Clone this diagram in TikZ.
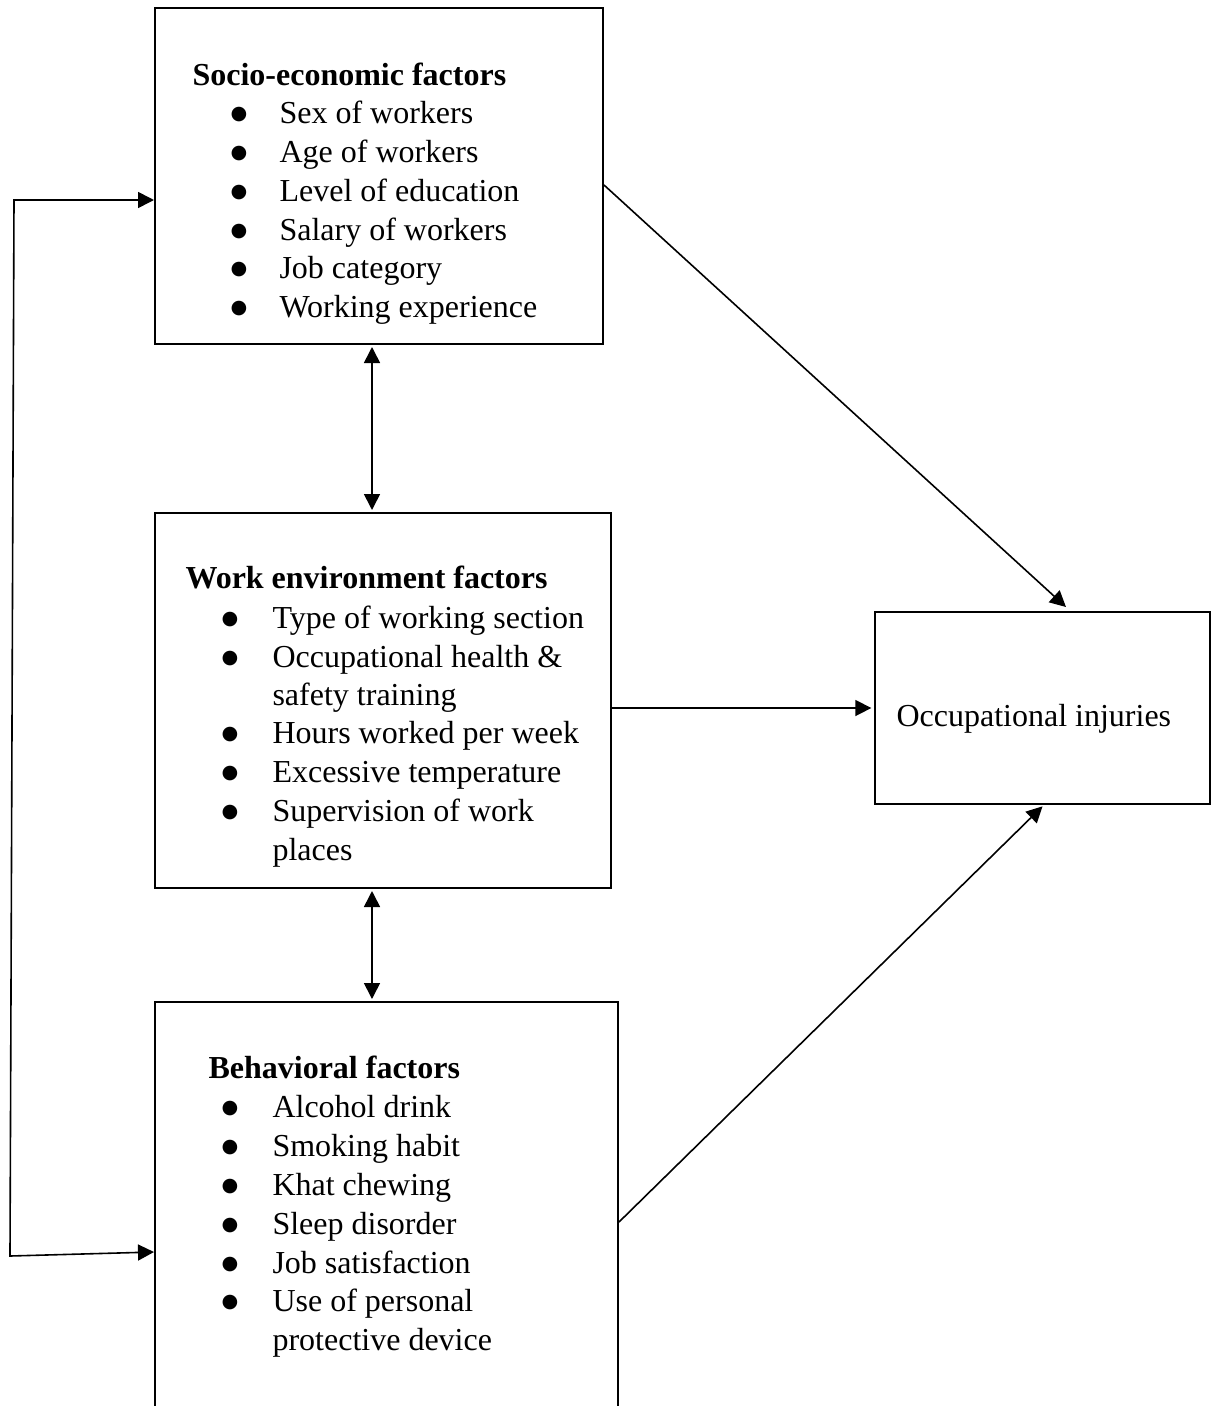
\documentclass[tikz,border=0pt]{standalone}
\usepackage{fontspec}
\setmainfont{Liberation Serif}
\newfontfamily\bulfont{DejaVu Sans}
\usetikzlibrary{arrows.meta}
\tikzset{
  box/.style={draw, line width=0.75pt, inner sep=0pt},
  itm/.style={anchor=base west, inner sep=0pt, font=\fontsize{12}{14.6}\selectfont},
  hdr/.style={anchor=base west, inner sep=0pt, font=\fontsize{12}{14.6}\selectfont\bfseries},
  bul/.style={anchor=base, inner sep=0pt, yshift=1.3pt, font=\bulfont\fontsize{7.2}{9}\selectfont},
  arr/.style={-{Triangle[length=6pt,width=6pt]}, line width=0.6pt},
  darr/.style={{Triangle[length=6pt,width=6pt]}-{Triangle[length=6pt,width=6pt]}, line width=0.6pt}
}
\begin{document}
\begin{tikzpicture}[x=0.375pt, y=-0.375pt]
\useasboundingbox (0,0) rectangle (1217,1406);
% boxes
\node[box, minimum width=168pt, minimum height=126pt] (b1) at (379,176) {};
\node[box, minimum width=171pt, minimum height=140.625pt] (b2) at (383,700.5) {};
\node[box, minimum width=173.625pt, minimum height=156.75pt] (b3) at (386.5,1211) {};
\node[box, minimum width=125.625pt, minimum height=72pt] (b4) at (1042.5,708) {};
% box 1 text
\node[hdr] (h1) at (192,85) {Socio-economic factors};
\foreach \yy/\tt [count=\i] in {123/Sex of workers, 162/Age of workers, 201/Level of education, 240/Salary of workers, 278/Job category, 317/Working experience} {
  \node[bul] (sb\i) at (239,\yy) {●};
  \node[itm] (si\i) at (279,\yy) {\tt};
}
% box 2 text
\node[hdr] (h2) at (185,588) {Work environment factors};
\foreach \yy/\tt [count=\i] in {628/Type of working section, 667/Occupational health \&, 743/Hours worked per week, 782/Excessive temperature, 821/Supervision of work} {
  \node[bul] (wb\i) at (230,\yy) {●};
  \node[itm] (wi\i) at (272,\yy) {\tt};
}
\node[itm] (wc1) at (272,705) {safety training};
\node[itm] (wc2) at (272,860) {places};
% box 3 text
\node[hdr] (h3) at (208,1078) {Behavioral factors};
\foreach \yy/\tt [count=\i] in {1117/Alcohol drink, 1156/Smoking habit, 1195/Khat chewing, 1234/Sleep disorder, 1273/Job satisfaction, 1311/Use of personal} {
  \node[bul] (bb\i) at (230,\yy) {●};
  \node[itm] (bi\i) at (272,\yy) {\tt};
}
\node[itm] (bc1) at (272,1350) {protective device};
% box 4 text
\node[itm] (oi) at (896,726) {Occupational injuries};
% loop coordinates
\coordinate (c1) at (14,200);
\coordinate (c2) at (10,1256);
% connectors
\draw[arr] ([yshift=-3.375pt]b1.east) -- ([xshift=8.8pt,yshift=1.5pt]b4.north);
\draw[arr] (b2.east |- b4.west) -- ([xshift=-1pt]b4.west);
\draw[arr] ([yshift=-4.125pt]b3.east) -- ([yshift=-0.5pt]b4.south);
\draw[darr] ([xshift=-2.625pt,yshift=-0.75pt]b1.south) -- ([xshift=-4.125pt,yshift=0.75pt]b2.north);
\draw[darr] ([xshift=-4.125pt,yshift=-0.75pt]b2.south) -- ([xshift=-5.44pt,yshift=0.75pt]b3.north);
\draw[darr] ([yshift=-9pt]b1.west) -- (c1) -- (c2) -- ([yshift=-15.375pt]b3.west);
\end{tikzpicture}
\end{document}
